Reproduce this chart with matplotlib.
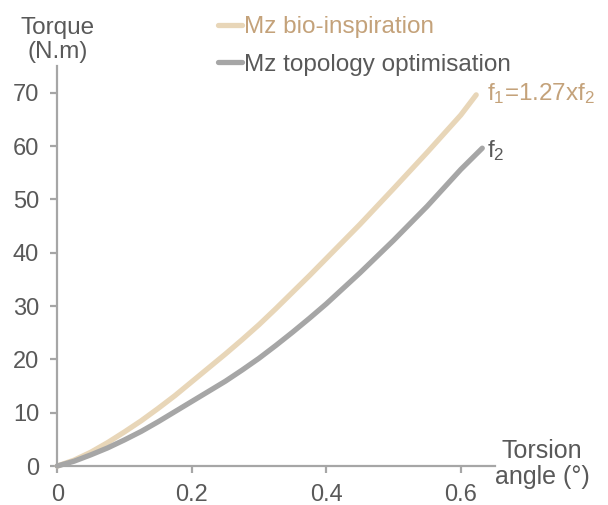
import matplotlib
matplotlib.use("Agg")
import matplotlib.pyplot as plt

plt.rcParams['font.family'] = ['Liberation Sans', 'DejaVu Sans']
plt.rcParams['mathtext.default'] = 'regular'

# torsion angle (deg) vs torque (N.m)
angle_bio = [0, 0.025, 0.05, 0.075, 0.1, 0.125, 0.15, 0.175, 0.2, 0.225, 0.25, 0.275,
             0.3, 0.325, 0.35, 0.375, 0.4, 0.45, 0.5, 0.55, 0.6, 0.623]
torque_bio = [0, 1.1, 2.6, 4.4, 6.4, 8.5, 10.8, 13.2, 15.8, 18.4, 21.0, 23.7,
              26.5, 29.5, 32.6, 35.7, 38.9, 45.3, 52.0, 58.8, 65.8, 69.6]

angle_topo = [0, 0.025, 0.05, 0.075, 0.1, 0.125, 0.15, 0.175, 0.2, 0.225, 0.25, 0.275,
              0.3, 0.325, 0.35, 0.375, 0.4, 0.45, 0.5, 0.55, 0.6, 0.632]
torque_topo = [0, 0.9, 2.1, 3.4, 4.9, 6.5, 8.3, 10.2, 12.1, 14.0, 15.9, 18.0,
               20.2, 22.6, 25.1, 27.7, 30.4, 36.2, 42.3, 48.7, 55.6, 59.6]

x_ticks = [0, 0.2, 0.4, 0.6]
x_labels = ['0', '0.2', '0.4', '0.6']
y_ticks = [0, 10, 20, 30, 40, 50, 60, 70]

beige = '#e8d6b8'
grey = '#a6a6a6'
tan_text = '#c4a27a'
text_grey = '#595959'

fig = plt.figure(figsize=(6.08, 5.05), dpi=100)
ax = fig.add_axes([0.0942, 0.0772, 0.720, 0.792])

l1, = ax.plot(angle_bio, torque_bio, color=beige, lw=3.8, solid_capstyle='round',
              solid_joinstyle='round', clip_on=False, label='Mz bio-inspiration')
l2, = ax.plot(angle_topo, torque_topo, color=grey, lw=3.8, solid_capstyle='round',
              solid_joinstyle='round', clip_on=False, label='Mz topology optimisation')

ax.set_xlim(0, 0.651)
ax.set_ylim(0, 75)
ax.set_xticks(x_ticks)
ax.set_xticklabels(x_labels)
ax.set_yticks(y_ticks)

for s in ['top', 'right']:
    ax.spines[s].set_visible(False)
for s in ['left', 'bottom']:
    ax.spines[s].set_color(grey)
    ax.spines[s].set_linewidth(1.6)
ax.tick_params(colors=grey, width=1.6, length=5, labelsize=17, labelcolor=text_grey, pad=8)

leg = ax.legend(handles=[l1, l2], loc='upper left', bbox_to_anchor=(218 / 608, 1 - 16 / 505),
                bbox_transform=fig.transFigure, frameon=False, fontsize=17.5,
                handlelength=1.0, handletextpad=0.08, labelspacing=0.65,
                borderpad=0, borderaxespad=0, labelcolor=[tan_text, text_grey])

fig.text(58 / 608, 1 - 40 / 505, 'Torque\n(N.m)', ha='center', va='center',
         fontsize=17.5, color=text_grey, linespacing=1.15)
fig.text(542 / 608, 1 - 464 / 505, 'Torsion\nangle (°)', ha='center', va='center',
         fontsize=18, color=text_grey, linespacing=1.15)

fig.text(487 / 608, 1 - 94 / 505, 'f$_1$=1.27xf$_2$', ha='left', va='center',
         fontsize=17.5, color=tan_text)
fig.text(487 / 608, 1 - 151 / 505, 'f$_2$', ha='left', va='center',
         fontsize=17.5, color=text_grey)

fig.savefig('out.png', dpi=100)
